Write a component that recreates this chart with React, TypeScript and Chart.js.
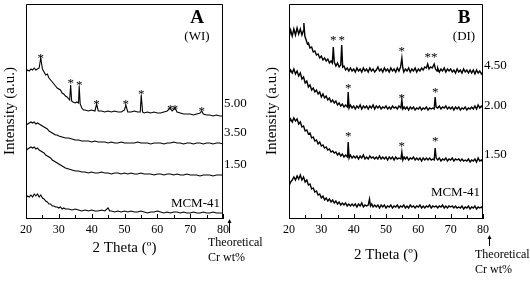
import React, { useEffect, useRef } from "react";
import { Chart, registerables } from "chart.js";

Chart.register(...registerables);

const SERIF = '"Liberation Serif", "Times New Roman", serif';

type Pt = [number, number];

// ---- axis ----
const THETA_MIN = 20;
const THETA_MAX = 80;
const MAJOR_STEP = 10;
const MINOR_STEP = 5;
const INT_MIN = 0;
const INT_MAX = 214;

const X_TITLE = "2 Theta (º)";
const Y_TITLE = "Intensity (a.u.)";
const CR_LABEL = ["Theoretical", "Cr wt%"];

// ---- panel A (WI) traces: [2θ, intensity a.u.] ----
const WI_500: Pt[] = [
  [20, 146], [20.5, 148], [21, 147], [21.5, 149], [22, 148], [22.5, 150], [23, 148], [23.5, 149], [24, 150],
  [24.5, 160], [25, 149], [25.5, 146], [26, 143], [26.5, 144], [27, 140], [27.5, 138], [28, 136], [28.5, 134],
  [29, 132], [29.5, 130], [30, 129], [30.5, 128], [31, 125], [31.5, 124], [32, 122], [32.5, 121], [33, 119],
  [33.3, 118], [33.6, 133], [33.9, 117], [34.3, 116], [35, 115], [35.5, 116], [36, 115], [36.2, 132], [36.5, 114],
  [37, 110], [37.5, 108], [38, 108], [39, 107], [40, 108], [41, 107], [41.5, 114], [42, 107], [43, 107], [44, 106],
  [45, 107], [46, 106], [47, 107], [48, 106], [49, 106], [50, 108], [50.4, 113], [51, 106], [52, 106], [53, 107],
  [54, 106], [54.8, 106], [55.1, 123], [55.5, 106], [56, 105], [57, 106], [58, 105], [59, 106], [60, 105],
  [61, 105], [62, 106], [63, 107], [63.9, 110], [64.5, 107], [65.4, 110], [66, 106], [67, 105], [68, 104],
  [69, 104], [70, 104], [71, 103], [72, 104], [73, 105], [73.5, 107], [74, 104], [75, 103], [76, 103], [77, 102],
  [78, 103], [79, 102], [80, 102],
];
const WI_350: Pt[] = [
  [20, 93], [20.5, 94], [21, 95], [21.5, 96], [22, 95], [22.5, 96], [23, 94], [23.5, 95], [24, 94], [24.5, 93],
  [25, 92], [25.5, 91], [26, 90], [26.5, 89], [27, 87], [27.5, 86], [28, 85], [28.5, 84], [29, 83], [29.5, 83],
  [30, 82], [31, 81], [32, 80], [33, 80], [34, 79], [35, 78], [36, 78], [37, 77], [38, 77], [39, 77], [40, 76],
  [41, 77], [42, 76], [43, 76], [44, 76], [45, 75], [46, 76], [47, 75], [48, 75], [49, 76], [50, 75], [51, 75],
  [52, 75], [53, 75], [54, 76], [55, 75], [56, 75], [57, 75], [58, 74], [59, 75], [60, 75], [61, 75], [62, 74],
  [63, 75], [64, 75], [65, 76], [66, 75], [67, 75], [68, 74], [69, 75], [70, 75], [71, 74], [72, 75], [73, 75],
  [74, 74], [75, 75], [76, 75], [77, 74], [78, 75], [79, 75], [80, 74],
];
const WI_150: Pt[] = [
  [20, 67], [20.5, 69], [21, 70], [21.5, 71], [22, 70], [22.5, 71], [23, 69], [23.5, 70], [24, 68], [24.5, 67],
  [25, 66], [25.5, 65], [26, 63], [26.5, 62], [27, 61], [27.5, 60], [28, 58], [28.5, 57], [29, 56], [29.5, 55],
  [30, 54], [31, 52], [32, 50], [33, 49], [34, 48], [35, 47], [36, 47], [37, 46], [38, 46], [39, 45], [40, 46],
  [41, 45], [42, 45], [43, 46], [44, 45], [45, 45], [46, 44], [47, 45], [48, 45], [49, 44], [50, 45], [51, 44],
  [52, 45], [53, 44], [54, 44], [55, 45], [56, 44], [57, 44], [58, 44], [59, 43], [60, 44], [61, 44], [62, 43],
  [63, 44], [64, 44], [65, 43], [66, 44], [67, 43], [68, 43], [69, 44], [70, 43], [71, 43], [72, 43], [73, 42],
  [74, 43], [75, 43], [76, 43], [77, 42], [78, 43], [79, 43], [80, 43],
];
const WI_MCM: Pt[] = [
  [20, 20], [20.5, 22], [21, 21], [21.5, 23], [22, 21], [22.5, 24], [23, 22], [23.5, 24], [24, 21], [24.5, 23],
  [25, 20], [25.5, 19], [26, 17], [26.5, 16], [27, 14], [27.5, 14], [28, 12], [28.5, 12], [29, 11], [29.5, 11],
  [30, 10], [30.5, 11], [31, 9], [31.5, 10], [32, 9], [33, 9], [34, 8], [35, 9], [36, 8], [37, 7], [38, 8],
  [39, 7], [40, 8], [41, 7], [42, 7], [43, 8], [44, 7], [45, 10], [45.5, 7], [46, 7], [47, 6], [48, 7], [49, 6],
  [50, 7], [51, 6], [52, 7], [53, 6], [54, 6], [55, 7], [56, 6], [57, 5], [58, 6], [59, 6], [60, 7], [61, 6],
  [62, 5], [63, 6], [64, 5], [65, 6], [66, 6], [67, 5], [68, 6], [69, 5], [70, 5], [71, 6], [72, 5], [73, 5],
  [74, 6], [75, 5], [76, 5], [77, 6], [78, 5], [79, 5], [80, 5],
];
const WI_STARS: Pt[] = [
  [24.5, 162], [33.6, 137], [36.2, 135], [41.5, 116], [50.4, 116], [55.1, 126], [63.9, 111], [65.4, 111], [73.5, 109],
];
const WI_LABELS = ["5.00", "3.50", "1.50", "MCM-41"];
const WI_LABEL_LEVELS = [114, 85, 53, 14];

// ---- panel B (DI) traces ----
const DI_450: Pt[] = [
  [20, 180], [20.5, 188], [21, 182], [21.5, 189], [22, 183], [22.5, 190], [23, 184], [23.5, 189], [24, 183],
  [24.4, 187], [24.6, 195], [24.9, 182], [25.3, 178], [25.7, 174], [26, 175], [26.5, 170], [27, 171], [27.5, 166],
  [28, 167], [28.5, 163], [29, 164], [29.5, 160], [30, 162], [30.5, 158], [31, 160], [31.5, 157], [32, 159],
  [32.5, 155], [33, 157], [33.4, 155], [33.7, 171], [34, 156], [34.5, 152], [35, 155], [35.5, 151], [36, 153],
  [36.3, 173], [36.6, 151], [37, 152], [37.5, 148], [38, 150], [38.5, 147], [39, 150], [39.5, 147], [40, 149],
  [40.5, 146], [41, 150], [41.5, 147], [42, 149], [42.5, 146], [43, 150], [43.5, 147], [44, 149], [44.5, 146],
  [45, 150], [45.5, 147], [46, 149], [46.5, 146], [47, 148], [47.5, 151], [48, 147], [48.5, 149], [49, 146],
  [49.5, 150], [50, 147], [50.5, 149], [51, 146], [51.5, 150], [52, 147], [52.5, 149], [53, 146], [53.5, 150],
  [54, 147], [54.5, 151], [54.9, 160], [55.2, 150], [55.5, 146], [56, 149], [56.5, 147], [57, 150], [57.5, 146],
  [58, 149], [58.5, 147], [59, 150], [59.5, 146], [60, 149], [60.5, 147], [61, 150], [61.5, 148], [62, 151],
  [62.5, 150], [62.9, 154], [63.3, 149], [63.8, 151], [64.3, 150], [64.9, 154], [65.3, 149], [65.8, 147],
  [66, 150], [66.5, 146], [67, 149], [67.5, 147], [68, 150], [68.5, 146], [69, 149], [69.5, 147], [70, 149],
  [70.5, 146], [71, 148], [71.5, 145], [72, 149], [72.5, 146], [73, 148], [73.5, 145], [74, 149], [74.5, 146],
  [75, 148], [75.5, 145], [76, 148], [76.5, 145], [77, 148], [77.5, 144], [78, 148], [78.5, 145], [79, 147],
  [79.5, 144], [80, 146],
];
const DI_200: Pt[] = [
  [20, 144], [20.5, 148], [21, 145], [21.5, 149], [22, 144], [22.5, 147], [23, 142], [23.5, 145], [24, 139],
  [24.5, 141], [25, 135], [25.5, 137], [26, 131], [26.5, 133], [27, 128], [27.5, 130], [28, 126], [28.5, 128],
  [29, 124], [29.5, 126], [30, 121], [30.5, 124], [31, 120], [31.5, 122], [32, 118], [32.5, 120], [33, 116],
  [33.5, 118], [34, 115], [34.5, 117], [35, 113], [35.5, 115], [36, 112], [36.5, 114], [37, 111], [37.5, 113],
  [38.1, 111], [38.3, 126], [38.6, 110], [39, 113], [39.5, 110], [40, 112], [40.5, 109], [41, 112], [41.5, 110],
  [42, 113], [42.5, 109], [43, 112], [43.5, 110], [44, 112], [44.5, 109], [45, 112], [45.5, 110], [46, 113],
  [46.5, 109], [47, 112], [47.5, 110], [48, 112], [48.5, 109], [49, 111], [49.5, 110], [50, 112], [50.5, 109],
  [51, 111], [51.5, 109], [52, 112], [52.5, 110], [53, 111], [53.5, 109], [54, 112], [54.6, 110], [54.9, 118],
  [55.2, 109], [55.6, 111], [56, 109], [56.5, 111], [57, 108], [57.5, 111], [58, 109], [58.5, 111], [59, 108],
  [59.5, 110], [60, 109], [60.5, 111], [61, 108], [61.5, 110], [62, 109], [62.5, 111], [63, 108], [63.5, 110],
  [64, 109], [64.5, 110], [64.9, 109], [65.2, 121], [65.5, 111], [66, 110], [66.5, 112], [67, 109], [67.5, 111],
  [68, 110], [68.5, 112], [69, 109], [69.5, 111], [70, 109], [70.5, 111], [71, 108], [71.5, 111], [72, 109],
  [72.5, 111], [73, 108], [73.5, 110], [74, 109], [74.5, 111], [75, 108], [75.5, 110], [76, 109], [76.5, 111],
  [77, 109], [77.5, 112], [78, 109], [78.5, 113], [79, 110], [79.5, 112], [80, 110],
];
const DI_150: Pt[] = [
  [20, 95], [20.5, 99], [21, 96], [21.5, 100], [22, 97], [22.5, 99], [23, 94], [23.5, 96], [24, 91], [24.5, 92],
  [25, 87], [25.5, 88], [26, 84], [26.5, 85], [27, 80], [27.5, 81], [28, 77], [28.5, 78], [29, 74], [29.5, 76],
  [30, 72], [30.5, 73], [31, 70], [31.5, 71], [32, 68], [32.5, 69], [33, 66], [33.5, 67], [34, 65], [34.5, 66],
  [35, 63], [35.5, 65], [36, 62], [36.5, 64], [37, 61], [37.5, 63], [38.1, 61], [38.3, 76], [38.6, 60], [39, 63],
  [39.5, 60], [40, 62], [40.5, 60], [41, 62], [41.5, 59], [42, 62], [42.5, 60], [43, 63], [43.5, 59], [44, 61],
  [44.5, 59], [45, 62], [45.5, 60], [46, 61], [46.5, 59], [47, 61], [47.5, 59], [48, 62], [48.5, 59], [49, 61],
  [49.5, 59], [50, 61], [50.5, 58], [51, 61], [51.5, 59], [52, 61], [52.5, 58], [53, 61], [53.5, 59], [54, 60],
  [54.6, 59], [54.9, 66], [55.2, 58], [55.6, 61], [56, 59], [56.5, 61], [57, 58], [57.5, 60], [58, 59], [58.5, 61],
  [59, 58], [59.5, 60], [60, 58], [60.5, 60], [61, 57], [61.5, 60], [62, 58], [62.5, 60], [63, 58], [63.5, 60],
  [64, 58], [64.5, 59], [64.9, 58], [65.2, 70], [65.5, 60], [66, 58], [66.5, 60], [67, 57], [67.5, 59], [68, 58],
  [68.5, 60], [69, 57], [69.5, 59], [70, 58], [70.5, 60], [71, 57], [71.5, 59], [72, 58], [72.5, 59], [73, 57],
  [73.5, 59], [74, 57], [74.5, 58], [75, 57], [75.5, 59], [76, 56], [76.5, 58], [77, 57], [77.5, 59], [78, 56],
  [78.5, 60], [79, 57], [79.5, 58], [80, 56],
];
const DI_MCM: Pt[] = [
  [20, 32], [20.5, 36], [21, 38], [21.5, 41], [22, 38], [22.5, 42], [23, 39], [23.5, 43], [24, 38], [24.5, 41],
  [25, 36], [25.5, 38], [26, 33], [26.5, 34], [27, 29], [27.5, 30], [28, 26], [28.5, 27], [29, 23], [29.5, 24],
  [30, 20], [30.5, 22], [31, 18], [31.5, 20], [32, 17], [32.5, 19], [33, 16], [33.5, 18], [34, 15], [34.5, 17],
  [35, 14], [35.5, 16], [36, 13], [36.5, 15], [37, 13], [37.5, 15], [38, 12], [38.5, 14], [39, 12], [39.5, 14],
  [40, 12], [40.5, 14], [41, 11], [41.5, 14], [42, 12], [42.5, 15], [43, 11], [43.5, 13], [44, 12], [44.5, 13],
  [44.9, 19], [45.2, 12], [45.6, 14], [46, 11], [46.5, 13], [47, 11], [47.5, 13], [48, 10], [48.5, 13], [49, 11],
  [49.5, 13], [50, 10], [50.5, 12], [51, 11], [51.5, 13], [52, 10], [52.5, 12], [53, 11], [53.5, 13], [54, 10],
  [54.5, 12], [55, 11], [55.5, 13], [56, 10], [56.5, 12], [57, 10], [57.5, 13], [58, 11], [58.5, 12], [59, 10],
  [59.5, 12], [60, 11], [60.5, 13], [61, 10], [61.5, 12], [62, 10], [62.5, 12], [63, 11], [63.5, 13], [64, 10],
  [64.5, 12], [65, 11], [65.5, 12], [66, 10], [66.5, 12], [67, 11], [67.5, 13], [68, 10], [68.5, 12], [69, 10],
  [69.5, 12], [70, 11], [70.5, 12], [71, 10], [71.5, 12], [72, 10], [72.5, 11], [73, 10], [73.5, 12], [74, 9],
  [74.5, 11], [75, 10], [75.5, 12], [76, 9], [76.5, 11], [77, 10], [77.5, 12], [78, 9], [78.5, 11], [79, 10],
  [79.5, 11], [80, 9],
];
const DI_STARS: Pt[] = [
  [33.7, 180], [36.3, 180], [54.9, 169], [62.9, 163], [64.9, 163],
  [38.3, 132], [54.9, 122], [65.2, 128],
  [38.3, 84], [54.9, 74], [65.2, 79],
];
const DI_LABELS = ["4.50", "2.00", "1.50", "MCM-41"];
const DI_LABEL_LEVELS = [152, 112, 63, 25];

type PanelDef = {
  letter: string;
  method: string;
  traces: Pt[][];
  stars: Pt[];
  labels: string[];
  levels: number[];
  lineWidth: number;
  padLeft: number;
  padRight: number;
  xTitlePad: number;
  yTitleX: number;
  letterX: number;
  crX: number;
  crY: number;
  arrowX: number;
  arrowTop: number;
  arrowBottom: number;
};

const PANEL_A: PanelDef = {
  letter: "A", method: "(WI)",
  traces: [WI_500, WI_350, WI_150, WI_MCM],
  stars: WI_STARS, labels: WI_LABELS, levels: WI_LABEL_LEVELS, lineWidth: 1.1,
  padLeft: 26, padRight: 42, xTitlePad: 26, yTitleX: 10, letterX: 197,
  crX: 208, crY: 243, arrowX: 229.5, arrowTop: 219, arrowBottom: 233,
};
const PANEL_B: PanelDef = {
  letter: "B", method: "(DI)",
  traces: [DI_450, DI_200, DI_150, DI_MCM],
  stars: DI_STARS, labels: DI_LABELS, levels: DI_LABEL_LEVELS, lineWidth: 1.4,
  padLeft: 24, padRight: 47, xTitlePad: 19, yTitleX: 7, letterX: 199,
  crX: 210, crY: 255, arrowX: 224.5, arrowTop: 235, arrowBottom: 246,
};

function decorPlugin(def: PanelDef) {
  return {
    id: "decor",
    afterDraw(chart: any) {
      const { ctx, chartArea: a, scales } = chart;
      const xs = scales.x, ys = scales.y;
      ctx.save();
      ctx.strokeStyle = "#000";
      ctx.fillStyle = "#000";
      ctx.lineWidth = 1;
      const L = Math.round(a.left) + 0.5;
      const R = Math.round(a.right) - 0.5;
      const T = Math.round(a.top) + 0.5;
      const B = Math.round(a.bottom);
      ctx.beginPath();
      ctx.moveTo(L, B); ctx.lineTo(L, T); ctx.lineTo(R, T); ctx.lineTo(R, B);
      ctx.stroke();
      // inward tick marks
      for (let v = THETA_MIN; v <= THETA_MAX; v += MINOR_STEP) {
        const px = Math.round(xs.getPixelForValue(v)) + 0.5;
        const len = v % MAJOR_STEP === 0 ? 4 : 3;
        ctx.beginPath(); ctx.moveTo(px, B); ctx.lineTo(px, B - len); ctx.stroke();
      }
      // y title
      ctx.save();
      ctx.translate(def.yTitleX, (a.top + a.bottom) / 2);
      ctx.rotate(-Math.PI / 2);
      ctx.font = `15px ${SERIF}`;
      ctx.textAlign = "center"; ctx.textBaseline = "middle";
      ctx.fillText(Y_TITLE, 0, 0);
      ctx.restore();
      // panel letter
      ctx.textAlign = "center"; ctx.textBaseline = "middle";
      ctx.font = `bold 19px ${SERIF}`;
      ctx.fillText(def.letter, def.letterX, 18);
      ctx.font = `13px ${SERIF}`;
      ctx.fillText(def.method, def.letterX, 37);
      // trace labels
      ctx.font = `13px ${SERIF}`;
      def.labels.forEach((t, i) => {
        const y = ys.getPixelForValue(def.levels[i]);
        if (i === def.labels.length - 1) {
          ctx.textAlign = "right";
          ctx.fillText(t, a.right - 3, y);
        } else {
          ctx.textAlign = "left";
          ctx.fillText(t, a.right + 1, y);
        }
      });
      // stars
      ctx.font = `13px ${SERIF}`;
      ctx.textAlign = "center"; ctx.textBaseline = "alphabetic";
      const m = ctx.measureText("*");
      const asc = m.actualBoundingBoxAscent, desc = m.actualBoundingBoxDescent;
      def.stars.forEach(([tx, iv]) => {
        const px = xs.getPixelForValue(tx);
        const py = ys.getPixelForValue(iv);
        ctx.fillText("*", px, py + (asc - desc) / 2);
      });
      // Theoretical Cr wt%
      ctx.font = `12px ${SERIF}`;
      ctx.textAlign = "left"; ctx.textBaseline = "middle";
      ctx.fillText(CR_LABEL[0], def.crX, def.crY);
      ctx.fillText(CR_LABEL[1], def.crX, def.crY + 15);
      // arrow
      ctx.beginPath();
      ctx.moveTo(def.arrowX, def.arrowBottom); ctx.lineTo(def.arrowX, def.arrowTop + 2);
      ctx.stroke();
      ctx.beginPath();
      ctx.moveTo(def.arrowX, def.arrowTop);
      ctx.lineTo(def.arrowX - 2, def.arrowTop + 4);
      ctx.lineTo(def.arrowX + 2, def.arrowTop + 4);
      ctx.closePath(); ctx.fill();
      ctx.restore();
    },
  };
}

function makeConfig(def: PanelDef): any {
  return {
    type: "line",
    data: {
      datasets: def.traces.map((tr) => ({
        data: tr.map(([x, y]) => ({ x, y })),
        borderColor: "#000",
        borderWidth: def.lineWidth,
        pointRadius: 0,
        fill: false,
        tension: 0,
      })),
    },
    options: {
      animation: false,
      responsive: false,
      events: [],
      layout: { padding: { left: def.padLeft, right: def.padRight, top: 4, bottom: 0 } },
      plugins: { legend: { display: false }, tooltip: { enabled: false } },
      scales: {
        x: {
          type: "linear",
          min: THETA_MIN,
          max: THETA_MAX,
          afterFit: (s: any) => { s.height = 65; },
          ticks: {
            stepSize: MAJOR_STEP,
            autoSkip: false,
            maxRotation: 0,
            padding: 5,
            color: "#000",
            font: { family: SERIF, size: 12 },
          },
          grid: { display: false, drawTicks: false },
          border: { display: true, color: "#000", width: 1 },
          title: {
            display: true,
            text: X_TITLE,
            color: "#000",
            font: { family: SERIF, size: 15 },
            padding: { top: 0, bottom: def.xTitlePad },
          },
        },
        y: { display: false, min: INT_MIN, max: INT_MAX },
      },
    },
    plugins: [decorPlugin(def)],
  };
}

function Panel({ def, left }: { def: PanelDef; left: number }) {
  const ref = useRef<HTMLCanvasElement>(null);
  useEffect(() => {
    const chart = new Chart(ref.current as HTMLCanvasElement, makeConfig(def));
    return () => chart.destroy();
  }, [def]);
  return (
    <canvas
      ref={ref}
      width={265}
      height={283}
      style={{ position: "absolute", left, top: 0, width: 265, height: 283 }}
    />
  );
}

export default function App() {
  return (
    <div style={{ position: "absolute", left: 0, top: 0, width: 530, height: 283, background: "#fff", overflow: "hidden" }}>
      <Panel def={PANEL_A} left={0} />
      <Panel def={PANEL_B} left={265} />
    </div>
  );
}
